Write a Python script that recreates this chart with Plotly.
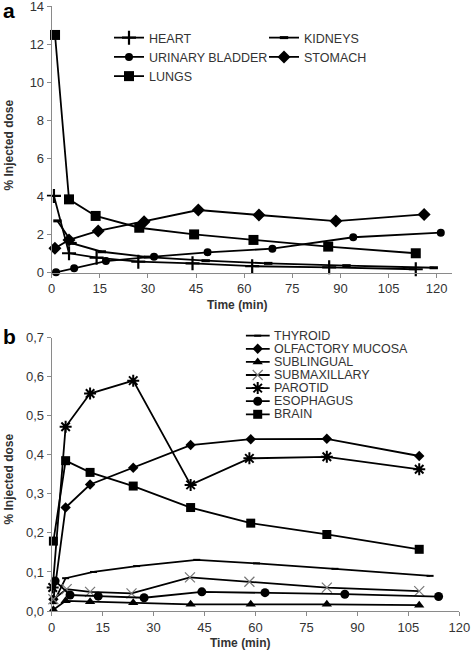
import plotly.graph_objects as go

# ---------------- Panel a data ----------------
A_NAMES = ["HEART", "KIDNEYS", "URINARY BLADDER", "STOMACH", "LUNGS"]
HEART_T = [0.7, 5.4, 14.0, 27.0, 43.9, 62.5, 86.5, 113.5]
HEART_V = [4.03, 1.02, 0.79, 0.58, 0.49, 0.34, 0.28, 0.18]
KIDNEYS_T = [1.8, 6.5, 15.6, 30.0, 48.0, 67.5, 91.9, 119.1]
KIDNEYS_V = [2.72, 1.54, 1.10, 0.82, 0.63, 0.49, 0.37, 0.26]
BLADDER_T = [1.35, 7.0, 16.9, 31.9, 48.6, 68.8, 94.0, 121.3]
BLADDER_V = [0.02, 0.23, 0.61, 0.84, 1.07, 1.26, 1.86, 2.10]
STOMACH_T = [1.0, 5.4, 14.5, 28.8, 45.7, 64.6, 88.6, 116.1]
STOMACH_V = [1.28, 1.72, 2.19, 2.68, 3.29, 3.03, 2.71, 3.06]
LUNGS_T = [1.04, 5.4, 13.7, 27.3, 44.4, 62.9, 86.2, 113.5]
LUNGS_V = [12.48, 3.85, 2.98, 2.36, 2.01, 1.72, 1.37, 1.02]

A_XTICKS = [0, 15, 30, 45, 60, 75, 90, 105, 120]
A_YTICKS = [0, 2, 4, 6, 8, 10, 12, 14]

# ---------------- Panel b data ----------------
B_NAMES = ["THYROID", "OLFACTORY MUCOSA", "SUBLINGUAL", "SUBMAXILLARY",
           "PAROTID", "ESOPHAGUS", "BRAIN"]
THYROID_T = [0.5, 4.1, 12.3, 25.0, 42.7, 60.3, 83.4, 111.4]
THYROID_V = [0.02, 0.084, 0.100, 0.115, 0.131, 0.122, 0.108, 0.090]
OLF_T = [0.5, 4.1, 11.3, 24.0, 40.9, 58.6, 81.0, 108.2]
OLF_V = [0.03, 0.265, 0.324, 0.367, 0.425, 0.440, 0.441, 0.397]
SUBLING_T = [0.5, 4.1, 11.3, 24.0, 40.9, 58.6, 81.0, 108.2]
SUBLING_V = [0.003, 0.026, 0.024, 0.021, 0.017, 0.017, 0.017, 0.015]
SUBMAX_T = [0.5, 4.4, 11.3, 23.5, 40.7, 58.2, 81.0, 108.2]
SUBMAX_V = [0.03, 0.056, 0.049, 0.045, 0.086, 0.075, 0.060, 0.051]
PAROTID_T = [0.3, 4.1, 11.3, 24.0, 40.9, 58.2, 81.0, 108.2]
PAROTID_V = [0.06, 0.472, 0.557, 0.590, 0.323, 0.391, 0.395, 0.363]
ESO_T = [1.0, 5.4, 13.7, 27.2, 44.2, 62.8, 86.3, 113.9]
ESO_V = [0.077, 0.041, 0.038, 0.034, 0.049, 0.047, 0.043, 0.037]
BRAIN_T = [0.5, 4.1, 11.3, 24.0, 40.9, 58.6, 81.0, 108.2]
BRAIN_V = [0.179, 0.385, 0.355, 0.320, 0.265, 0.225, 0.196, 0.158]

B_XTICKS = [0, 15, 30, 45, 60, 75, 90, 105, 120]
B_YTICKS = [0.0, 0.1, 0.2, 0.3, 0.4, 0.5, 0.6, 0.7]
B_YTICKTEXT = ["0,0", "0,1", "0,2", "0,3", "0,4", "0,5", "0,6", "0,7"]

# ---------------- styles ----------------
W, H = 472, 652
FONT = "Liberation Sans, Arial, sans-serif"
TXT = "#333333"
AXC = "#8a8a8a"
LW = 1.8

A_STYLE = {
    "HEART": dict(symbol="cross-thin", size=10, line=dict(width=2.2, color="black")),
    "KIDNEYS": dict(symbol="line-ew", size=6, line=dict(width=3, color="black")),
    "URINARY BLADDER": dict(symbol="circle", size=8, color="black"),
    "STOMACH": dict(symbol="diamond", size=10, color="black"),
    "LUNGS": dict(symbol="square", size=10, color="black"),
}
A_LEGEND = {"HEART": "legend", "URINARY BLADDER": "legend", "LUNGS": "legend",
            "KIDNEYS": "legend2", "STOMACH": "legend2"}
A_DATA = {"HEART": (HEART_T, HEART_V), "KIDNEYS": (KIDNEYS_T, KIDNEYS_V),
          "URINARY BLADDER": (BLADDER_T, BLADDER_V),
          "STOMACH": (STOMACH_T, STOMACH_V), "LUNGS": (LUNGS_T, LUNGS_V)}

B_STYLE = {
    "THYROID": dict(symbol="line-ew", size=5, line=dict(width=2, color="black")),
    "OLFACTORY MUCOSA": dict(symbol="diamond", size=8, color="black"),
    "SUBLINGUAL": dict(symbol="triangle-up", size=9, color="black"),
    "SUBMAXILLARY": dict(symbol="x-thin", size=10, line=dict(width=1.2, color="#777777")),
    "PAROTID": dict(symbol="asterisk", size=10, line=dict(width=2, color="black")),
    "ESOPHAGUS": dict(symbol="circle", size=9, color="black"),
    "BRAIN": dict(symbol="square", size=9, color="black"),
}
B_DATA = {"THYROID": (THYROID_T, THYROID_V), "OLFACTORY MUCOSA": (OLF_T, OLF_V),
          "SUBLINGUAL": (SUBLING_T, SUBLING_V), "SUBMAXILLARY": (SUBMAX_T, SUBMAX_V),
          "PAROTID": (PAROTID_T, PAROTID_V), "ESOPHAGUS": (ESO_T, ESO_V),
          "BRAIN": (BRAIN_T, BRAIN_V)}

fig = go.Figure()

for name in A_NAMES:
    t, v = A_DATA[name]
    fig.add_trace(go.Scatter(
        x=t, y=v, name=name, mode="lines+markers", xaxis="x", yaxis="y",
        line=dict(color="black", width=LW), marker=A_STYLE[name],
        legend=A_LEGEND[name], cliponaxis=False))

for name in B_NAMES:
    t, v = B_DATA[name]
    fig.add_trace(go.Scatter(
        x=t, y=v, name=name, mode="lines+markers", xaxis="x2", yaxis="y2",
        line=dict(color="black", width=LW), marker=B_STYLE[name],
        showlegend=False, cliponaxis=False))

# manual compact legend for panel b (on hidden pixel-scaled axes)
LEG_X0, LEG_X1 = 0.0, 24.0
LEG_ROW0, LEG_STEP = 335.7, 13.1
annotations = []
for i, name in enumerate(B_NAMES):
    yy = LEG_ROW0 + i * LEG_STEP
    fig.add_trace(go.Scatter(x=[LEG_X0, LEG_X1], y=[yy, yy], mode="lines",
                             xaxis="x3", yaxis="y3", showlegend=False,
                             line=dict(color="black", width=LW), hoverinfo="skip"))
    fig.add_trace(go.Scatter(x=[(LEG_X0 + LEG_X1) / 2], y=[yy], mode="markers",
                             xaxis="x3", yaxis="y3", showlegend=False,
                             marker=B_STYLE[name], hoverinfo="skip", cliponaxis=False))
    annotations.append(dict(x=LEG_X1 + 2, y=yy, xref="x3", yref="y3", text=name,
                            showarrow=False, xanchor="left", yanchor="middle",
                            font=dict(family=FONT, size=12.5, color=TXT)))

def px_x(p):
    return p / W

def px_y(p):
    return (H - p) / H

ax_common = dict(showgrid=False, zeroline=False, showline=True, linecolor=AXC,
                 linewidth=1, ticks="outside", ticklen=4, tickcolor=AXC,
                 tickfont=dict(family=FONT, size=13, color=TXT), fixedrange=True,
                 automargin=False, ticklabeloverflow="allow")

fig.update_layout(
    width=W, height=H, margin=dict(l=0, r=0, t=0, b=0, pad=0, autoexpand=False),
    paper_bgcolor="white", plot_bgcolor="white",
    font=dict(family=FONT, color=TXT),
    xaxis=dict(domain=[px_x(51.7), px_x(451.7)], range=[0, 124.7],
               tickvals=A_XTICKS, anchor="y", **ax_common),
    yaxis=dict(domain=[px_y(272.7), px_y(6)], range=[0, 14],
               tickvals=A_YTICKS, anchor="x", **ax_common),
    xaxis2=dict(domain=[px_x(51.7), px_x(459.3)], range=[0, 120],
                tickvals=B_XTICKS, anchor="y2", **ax_common),
    yaxis2=dict(domain=[px_y(611), px_y(337.7)], range=[0, 0.7],
                tickvals=B_YTICKS, ticktext=B_YTICKTEXT, anchor="x2", **ax_common),
    xaxis3=dict(domain=[px_x(245.7), 1.0], range=[0, W - 245.7], visible=False,
                fixedrange=True, anchor="y3"),
    yaxis3=dict(domain=[px_y(425), px_y(325)], range=[425, 325], visible=False,
                fixedrange=True, anchor="x3"),
    legend=dict(x=px_x(109), y=px_y(23), xanchor="left", yanchor="top",
                bgcolor="rgba(0,0,0,0)", font=dict(family=FONT, size=12.5, color=TXT),
                tracegroupgap=0),
    legend2=dict(x=px_x(264), y=px_y(23), xanchor="left", yanchor="top",
                 bgcolor="rgba(0,0,0,0)", font=dict(family=FONT, size=12.5, color=TXT),
                 tracegroupgap=0),
    showlegend=True,
)

title_font = dict(family=FONT, size=12, color=TXT)
centered = dict(xref="paper", yref="paper", showarrow=False,
                xanchor="center", yanchor="middle")
annotations += [
    dict(x=px_x(236.7), y=px_y(305), text="<b>Time (min)</b>", font=title_font, **centered),
    dict(x=px_x(240), y=px_y(643.3), text="<b>Time (min)</b>", font=title_font, **centered),
    dict(x=px_x(8.5), y=px_y(145), text="<b>% Injected dose</b>", textangle=-90,
         font=title_font, **centered),
    dict(x=px_x(8.5), y=px_y(479), text="<b>% Injected dose</b>", textangle=-90,
         font=title_font, **centered),
    dict(x=px_x(9), y=px_y(10), text="<b>a</b>",
         font=dict(family=FONT, size=21, color="black"), **centered),
    dict(x=px_x(9), y=px_y(336), text="<b>b</b>",
         font=dict(family=FONT, size=21, color="black"), **centered),
]
fig.update_layout(annotations=annotations)

# remove the browser's default 8px body margin so the figure fills the window
fig.write_html("out.html", config={"displayModeBar": False},
               post_script="document.body.style.margin='0';")
